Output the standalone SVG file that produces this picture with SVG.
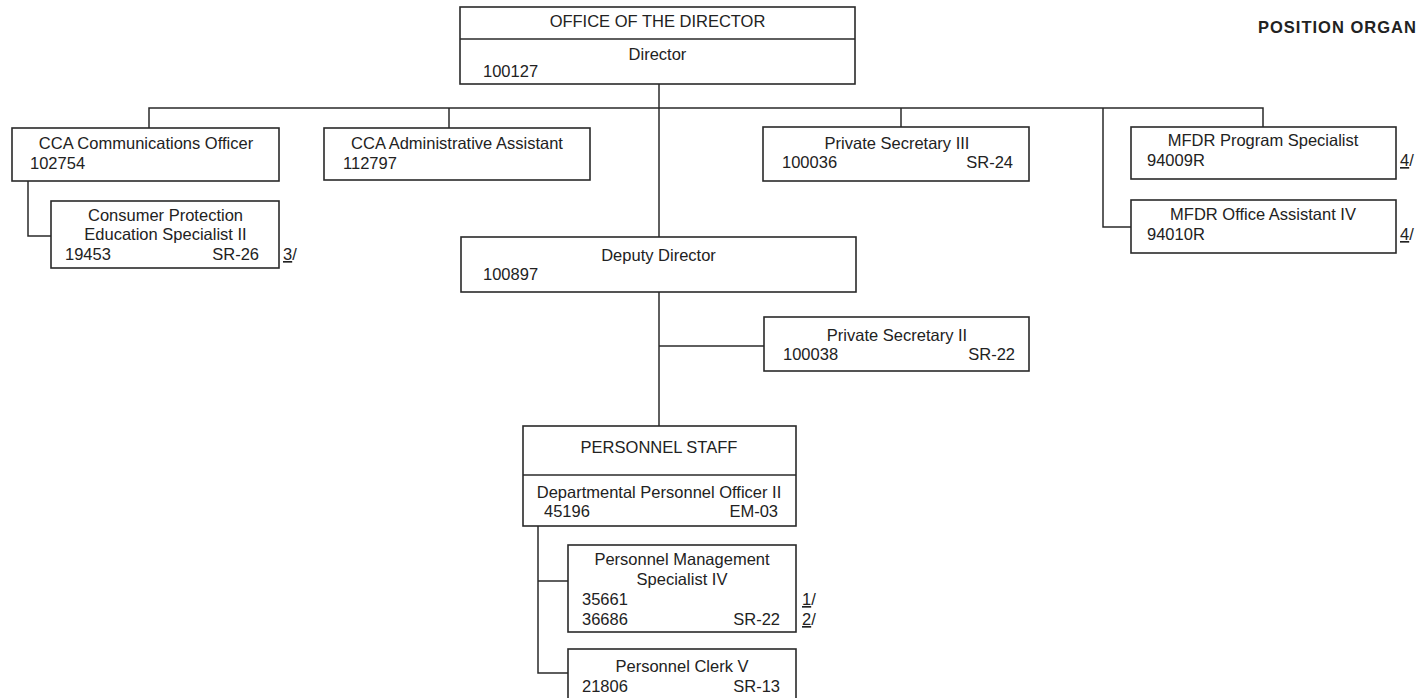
<svg xmlns="http://www.w3.org/2000/svg" width="1418" height="698" viewBox="0 0 1418 698">
<style>
.box{fill:#fff;stroke:#2a2a2a;stroke-width:1.6}
.ln{fill:none;stroke:#2a2a2a;stroke-width:1.5}
text{font-family:"Liberation Sans",Arial,sans-serif;font-size:16.5px;fill:#222}
.c{text-anchor:middle}
.r{text-anchor:end}
.hdr{font-weight:bold;letter-spacing:1px}
</style>
<rect width="1418" height="698" fill="#fff"/>
<text class="hdr" x="1258" y="33">POSITION ORGAN</text>
<g id="connectors">
<path class="ln" d="M659 84V237"/>
<path class="ln" d="M149 128V108H1263V127"/>
<path class="ln" d="M449 108V128"/>
<path class="ln" d="M901 108V127"/>
<path class="ln" d="M1103 108V227H1131"/>
<path class="ln" d="M28 181V236H51"/>
<path class="ln" d="M659 292V426"/>
<path class="ln" d="M659 346H764"/>
<path class="ln" d="M538 526V673H568"/>
<path class="ln" d="M538 581H568"/>
</g>
<g id="director">
<rect class="box" x="460" y="7" width="395" height="77"/>
<path class="ln" d="M460 39H855"/>
<text class="c" x="657.5" y="27">OFFICE OF THE DIRECTOR</text>
<text class="c" x="657.5" y="60">Director</text>
<text x="483" y="77">100127</text>
</g>
<g id="cca-comm">
<rect class="box" x="12" y="128" width="267" height="53"/>
<text class="c" x="146" y="149">CCA Communications Officer</text>
<text x="30" y="169">102754</text>
</g>
<g id="consumer-protection">
<rect class="box" x="51" y="201" width="228" height="67"/>
<text class="c" x="165.5" y="221">Consumer Protection</text>
<text class="c" x="165.5" y="240">Education Specialist II</text>
<text x="65" y="260">19453</text>
<text class="r" x="259" y="260">SR-26</text>
<text x="283" y="260"><tspan text-decoration="underline">3</tspan>/</text>
</g>
<g id="cca-admin">
<rect class="box" x="324" y="128" width="266" height="52"/>
<text class="c" x="457" y="149">CCA Administrative Assistant</text>
<text x="343" y="169">112797</text>
</g>
<g id="private-sec-iii">
<rect class="box" x="763" y="127" width="266" height="54"/>
<text class="c" x="897" y="149">Private Secretary III</text>
<text x="782" y="168">100036</text>
<text class="r" x="1013" y="168">SR-24</text>
</g>
<g id="mfdr-program">
<rect class="box" x="1131" y="127" width="265" height="52"/>
<text class="c" x="1263" y="146">MFDR Program Specialist</text>
<text x="1147" y="166">94009R</text>
<text x="1400" y="166"><tspan text-decoration="underline">4</tspan>/</text>
</g>
<g id="mfdr-office">
<rect class="box" x="1131" y="200" width="265" height="53"/>
<text class="c" x="1263" y="220">MFDR Office Assistant IV</text>
<text x="1147" y="240">94010R</text>
<text x="1400" y="240"><tspan text-decoration="underline">4</tspan>/</text>
</g>
<g id="deputy-director">
<rect class="box" x="461" y="237" width="395" height="55"/>
<text class="c" x="658.5" y="261">Deputy Director</text>
<text x="483" y="280">100897</text>
</g>
<g id="private-sec-ii">
<rect class="box" x="764" y="317" width="265" height="54"/>
<text class="c" x="897" y="341">Private Secretary II</text>
<text x="783" y="360">100038</text>
<text class="r" x="1015" y="360">SR-22</text>
</g>
<g id="personnel-staff">
<rect class="box" x="523" y="426" width="273" height="100"/>
<path class="ln" d="M523 475H796"/>
<text class="c" x="659" y="453">PERSONNEL STAFF</text>
<text class="c" x="659" y="498">Departmental Personnel Officer II</text>
<text x="544" y="517">45196</text>
<text class="r" x="778" y="517">EM-03</text>
</g>
<g id="pms-iv">
<rect class="box" x="568" y="545" width="228" height="87"/>
<text class="c" x="682" y="565">Personnel Management</text>
<text class="c" x="682" y="585">Specialist IV</text>
<text x="582" y="605">35661</text>
<text x="582" y="625">36686</text>
<text class="r" x="780" y="625">SR-22</text>
<text x="802" y="605"><tspan text-decoration="underline">1</tspan>/</text>
<text x="802" y="625"><tspan text-decoration="underline">2</tspan>/</text>
</g>
<g id="personnel-clerk">
<rect class="box" x="568" y="649" width="228" height="60"/>
<text class="c" x="682" y="672">Personnel Clerk V</text>
<text x="582" y="692">21806</text>
<text class="r" x="780" y="692">SR-13</text>
</g>
</svg>
